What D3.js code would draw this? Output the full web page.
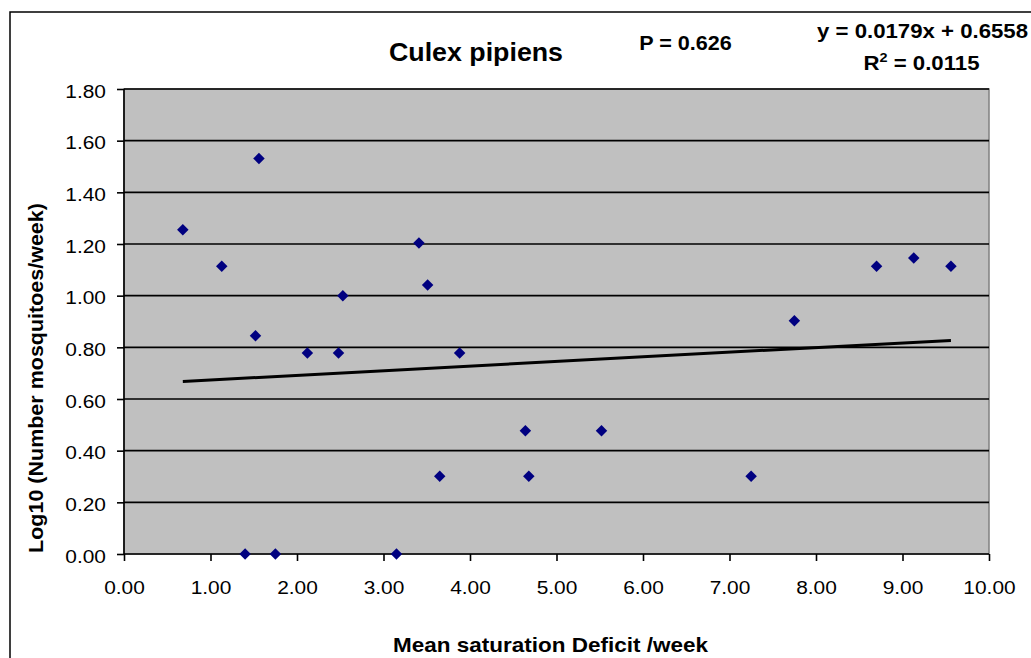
<!DOCTYPE html>
<html><head><meta charset="utf-8">
<script src="https://cdn.jsdelivr.net/npm/d3@7"></script>
<style>body{margin:0;background:#fff}svg{display:block}text{font-family:"Liberation Sans",Arial,sans-serif}</style>
</head><body><svg id="c" width="1031" height="658"></svg>
<script>
const xValues = [0.68,1.13,1.52,1.56,1.40,1.75,2.12,2.48,2.53,3.15,3.41,3.51,3.65,3.88,4.64,4.68,5.52,7.25,7.75,8.70,9.13,9.56];
const yValues = [1.255,1.114,0.845,1.531,0,0,0.778,0.778,1.0,0,1.204,1.041,0.301,0.778,0.477,0.301,0.477,0.301,0.903,1.114,1.146,1.114];
const xTicks = [0,1,2,3,4,5,6,7,8,9,10];
const yTicks = [0,0.2,0.4,0.6,0.8,1.0,1.2,1.4,1.6,1.8];
const slope = 0.0179, intercept = 0.6558;
const titleText = "Culex pipiens";
const pText = "P = 0.626";
const eqText = "y = 0.0179x + 0.6558";
const r2Value = "0.0115";
const xTitle = "Mean saturation Deficit /week";
const yTitle = "Log10 (Number mosquitoes/week)";

const svg = d3.select("#c");
const L=124, R=989, T=89, B=554;
const x = d3.scaleLinear().domain([0,10]).range([L,R]);
const y = d3.scaleLinear().domain([0,1.8]).range([B,T]);
const fmt = d3.format(".2f");

// outer frame
svg.append("rect").attr("x",10).attr("y",12).attr("width",1040).attr("height",700)
  .attr("fill","none").attr("stroke","#000").attr("stroke-width",1.5);

// plot bg
svg.append("rect").attr("x",L).attr("y",T).attr("width",R-L).attr("height",B-T)
  .attr("fill","#c0c0c0").attr("stroke","#808080").attr("stroke-width",1.5);

// grid
svg.append("g").selectAll("line").data(yTicks.filter(d=>d>0)).join("line")
  .attr("x1",L).attr("x2",R).attr("y1",d=>y(d)).attr("y2",d=>y(d))
  .attr("stroke","#000").attr("stroke-width",1.6);

// axes
const xa = svg.append("g").attr("transform",`translate(0,${B})`)
  .call(d3.axisBottom(x).tickValues(xTicks).tickFormat(fmt).tickSize(7));
const ya = svg.append("g").attr("transform",`translate(${L},0)`)
  .call(d3.axisLeft(y).tickValues(yTicks).tickFormat(fmt).tickSize(7));
[xa,ya].forEach(a=>{
  a.select(".domain").attr("stroke","#000").attr("stroke-width",1.6);
  a.selectAll(".tick line").attr("stroke","#000").attr("stroke-width",1.6);
  a.selectAll(".tick text").attr("font-size",19).attr("fill","#000")
   .attr("font-family","Liberation Sans, Arial, sans-serif").attr("dy",null);
});
xa.select(".domain").attr("d",`M${L},0H${R}`);
ya.select(".domain").attr("d",`M0,${B}V${T}`);
xa.selectAll(".tick text").attr("x",null).attr("y",null).attr("transform","translate(0,40) scale(1.1,1)");
ya.selectAll(".tick text").attr("x",null).attr("y",null).attr("transform","translate(-18,8) scale(1.1,1)");

// trendline
const xr = d3.extent(xValues);
svg.append("line").attr("x1",x(xr[0])).attr("x2",x(xr[1]))
  .attr("y1",y(slope*xr[0]+intercept)).attr("y2",y(slope*xr[1]+intercept))
  .attr("stroke","#000").attr("stroke-width",3);

// points
const sym = d3.symbol().type(d3.symbolDiamond2).size(84);
svg.append("g").selectAll("path").data(xValues.map((v,i)=>[v,yValues[i]])).join("path")
  .attr("d",sym).attr("transform",d=>`translate(${x(d[0])},${y(d[1])})`)
  .attr("fill","#000080");

// texts
function label(tx,ty,str,size,anchor,sx,rot){
  return svg.append("text")
    .attr("transform",`translate(${tx},${ty})${rot?` rotate(${rot})`:""} scale(${sx},1)`)
    .attr("text-anchor",anchor).attr("font-size",size).attr("font-weight","bold").text(str);
}
label(476,61,titleText,26,"middle",1.03);
label(685.5,50,pText,20,"middle",1.08);
label(1028,38,eqText,20,"end",1.11);
const r2 = svg.append("text").attr("transform","translate(921.5,70) scale(1.11,1)")
  .attr("text-anchor","middle").attr("font-size",20).attr("font-weight","bold");
r2.append("tspan").text("R");
r2.append("tspan").attr("dy",-8).attr("font-size",13).text("2");
r2.append("tspan").attr("dy",8).text(" = "+r2Value);
label(550.5,652,xTitle,20,"middle",1.125);
label(43,378,yTitle,20,"middle",1.075,-90);
</script></body></html>
